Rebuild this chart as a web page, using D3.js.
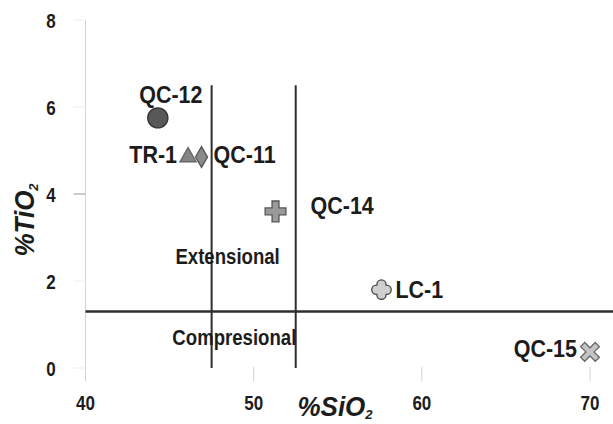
<!DOCTYPE html>
<html>
<head>
<meta charset="utf-8">
<script src="https://cdn.jsdelivr.net/npm/d3@7"></script>
<style>
  body { margin: 0; background: #fff; }
  text { font-family: "Liberation Sans", Arial, sans-serif; font-weight: bold; fill: #1c1c1c; }
</style>
</head>
<body>
<svg id="chart" width="613" height="424"></svg>
<script>
// Sample compositions (wt %)
const samples = ["QC-12", "TR-1", "QC-11", "QC-14", "LC-1", "QC-15"];
const sio2 = [44.3, 46.1, 46.9, 51.3, 57.6, 70.0];
const tio2 = [5.75, 4.85, 4.85, 3.6, 1.8, 0.37];
const markers = ["circle", "triangle", "diamond", "cross", "clover", "xcross"];

// Axis ticks
const xTicks = [40, 50, 60, 70];
const yTicks = [0, 2, 4, 6, 8];

// Tectonic setting boundaries
const sio2Limits = [47.5, 52.5];
const sio2LimitTop = 6.5;
const tio2Limit = 1.3;
const sio2Max = 72;
const zoneNames = ["Extensional", "Compresional"];
const zoneSio2 = [48.45, 48.85];
const zoneTio2 = [2.4, 0.53];

// Label layout relative to each marker: [dx, dy, anchor]
const labelLayout = [
  [13, -15, "middle"],
  [-11, 6, "end"],
  [12, 6, "start"],
  [35, 3, "start"],
  [14, 8, "start"],
  [-13, 5, "end"]
];

const svg = d3.select("#chart");
const x = d3.scaleLinear().domain([40, 70]).range([85.5, 590]);
const y = d3.scaleLinear().domain([0, 8]).range([368, 20]);

// Custom filled symbols
const clover = {
  draw(ctx, size) {
    const L = Math.sqrt(size) / 2, a = L * 0.47;
    const e = L - a;
    ctx.moveTo(-a, -e);
    ctx.arc(0, -e, a, Math.PI, 0);
    ctx.lineTo(a, -a); ctx.lineTo(e, -a);
    ctx.arc(e, 0, a, -Math.PI / 2, Math.PI / 2);
    ctx.lineTo(a, a); ctx.lineTo(a, e);
    ctx.arc(0, e, a, 0, Math.PI);
    ctx.lineTo(-a, a); ctx.lineTo(-e, a);
    ctx.arc(-e, 0, a, Math.PI / 2, Math.PI * 1.5);
    ctx.lineTo(-a, -a);
    ctx.closePath();
  }
};
const xcross = {
  draw(ctx, size) {
    const L = Math.sqrt(size) / 2, w = L * 0.28;
    const pts = [[-w, -L], [w, -L], [w, -w], [L, -w], [L, w], [w, w], [w, L], [-w, L], [-w, w], [-L, w], [-L, -w], [-w, -w]];
    const c = Math.SQRT1_2;
    pts.forEach(([px, py], i) => {
      const rx = (px - py) * c, ry = (px + py) * c;
      if (i === 0) ctx.moveTo(rx, ry); else ctx.lineTo(rx, ry);
    });
    ctx.closePath();
  }
};
const markerStyle = {
  circle:   { type: d3.symbolCircle,   size: 320, fill: "#585858", stroke: "#333" },
  triangle: { type: d3.symbolTriangle, size: 115, fill: "#858585", stroke: "#666" },
  diamond:  { type: d3.symbolDiamond,  size: 125, fill: "#8a8a8a", stroke: "#555" },
  cross:    { type: d3.symbolCross,    size: 240, fill: "#9a9a9a", stroke: "#555" },
  clover:   { type: clover,            size: 380, fill: "#cfcfcf", stroke: "#444" },
  xcross:   { type: xcross,            size: 430, fill: "#c4c4c4", stroke: "#666" }
};

// Stretched bold text helper
function label(g, tx, ty, str, size, anchor, sy) {
  return g.append("text")
    .attr("transform", `translate(${tx},${ty}) scale(1,${sy})`)
    .attr("text-anchor", anchor)
    .style("font-size", size + "px")
    .text(str);
}

// Y axis line and ticks
svg.append("line")
  .attr("x1", x(40)).attr("x2", x(40))
  .attr("y1", y(8)).attr("y2", y(0) + 12)
  .attr("stroke", "#d4d4d4").attr("stroke-width", 1);
svg.append("g").selectAll("line").data(yTicks).join("line")
  .attr("x1", x(40) - 12).attr("x2", x(40))
  .attr("y1", d => y(d)).attr("y2", d => y(d))
  .attr("stroke", d => d === 4 ? "#a8a8a8" : "#f0f0f0").attr("stroke-width", 1.2);
const yl = svg.append("g");
yTicks.forEach(t => label(yl, 51, y(t) + 7.5, String(t), 17, "middle", 1.2));

// X axis ticks
svg.append("g").selectAll("line").data(xTicks).join("line")
  .attr("x1", d => x(d)).attr("x2", d => x(d))
  .attr("y1", y(0) - 1).attr("y2", y(0) + 13)
  .attr("stroke", "#d4d4d4").attr("stroke-width", 1);
const xl = svg.append("g");
xTicks.forEach(t => label(xl, x(t), 410, String(t), 17, "middle", 1.2));

// Axis titles
const xt = svg.append("text")
  .attr("transform", "translate(335,416) scale(1,1.05)")
  .attr("text-anchor", "middle")
  .style("font-size", "26px").style("font-style", "italic");
xt.append("tspan").text("%SiO");
xt.append("tspan").text("2").style("font-size", "13px").attr("dy", 3);

const yt = svg.append("text")
  .attr("transform", "translate(34,220) rotate(-90) scale(1,1.05)")
  .attr("text-anchor", "middle")
  .style("font-size", "26px").style("font-style", "italic");
yt.append("tspan").text("%TiO");
yt.append("tspan").text("2").style("font-size", "13px").attr("dy", 4);

// Boundary lines
const bounds = svg.append("g").attr("stroke", "#2e2e2e");
bounds.append("line")
  .attr("x1", x(40)).attr("x2", x(sio2Max))
  .attr("y1", y(tio2Limit)).attr("y2", y(tio2Limit))
  .attr("stroke-width", 2.6);
bounds.selectAll("line.v").data(sio2Limits).join("line").attr("class", "v")
  .attr("x1", d => x(d)).attr("x2", d => x(d))
  .attr("y1", y(sio2LimitTop)).attr("y2", y(0))
  .attr("stroke-width", 2);

// Zone labels
const zl = svg.append("g");
zoneNames.forEach((n, i) => label(zl, x(zoneSio2[i]), y(zoneTio2[i]), n, 18.6, "middle", 1.15));

// Sample markers
svg.append("g").selectAll("path").data(samples).join("path")
  .attr("transform", (d, i) => `translate(${x(sio2[i])},${y(tio2[i])})`)
  .attr("d", (d, i) => d3.symbol().type(markerStyle[markers[i]].type).size(markerStyle[markers[i]].size)())
  .attr("fill", (d, i) => markerStyle[markers[i]].fill)
  .attr("stroke", (d, i) => markerStyle[markers[i]].stroke)
  .attr("stroke-width", 1.3);

// Sample labels
const sl = svg.append("g");
samples.forEach((s, i) => {
  const [dx, dy, anchor] = labelLayout[i];
  label(sl, x(sio2[i]) + dx, y(tio2[i]) + dy, s, 21.5, anchor, 1.15);
});
</script>
</body>
</html>
